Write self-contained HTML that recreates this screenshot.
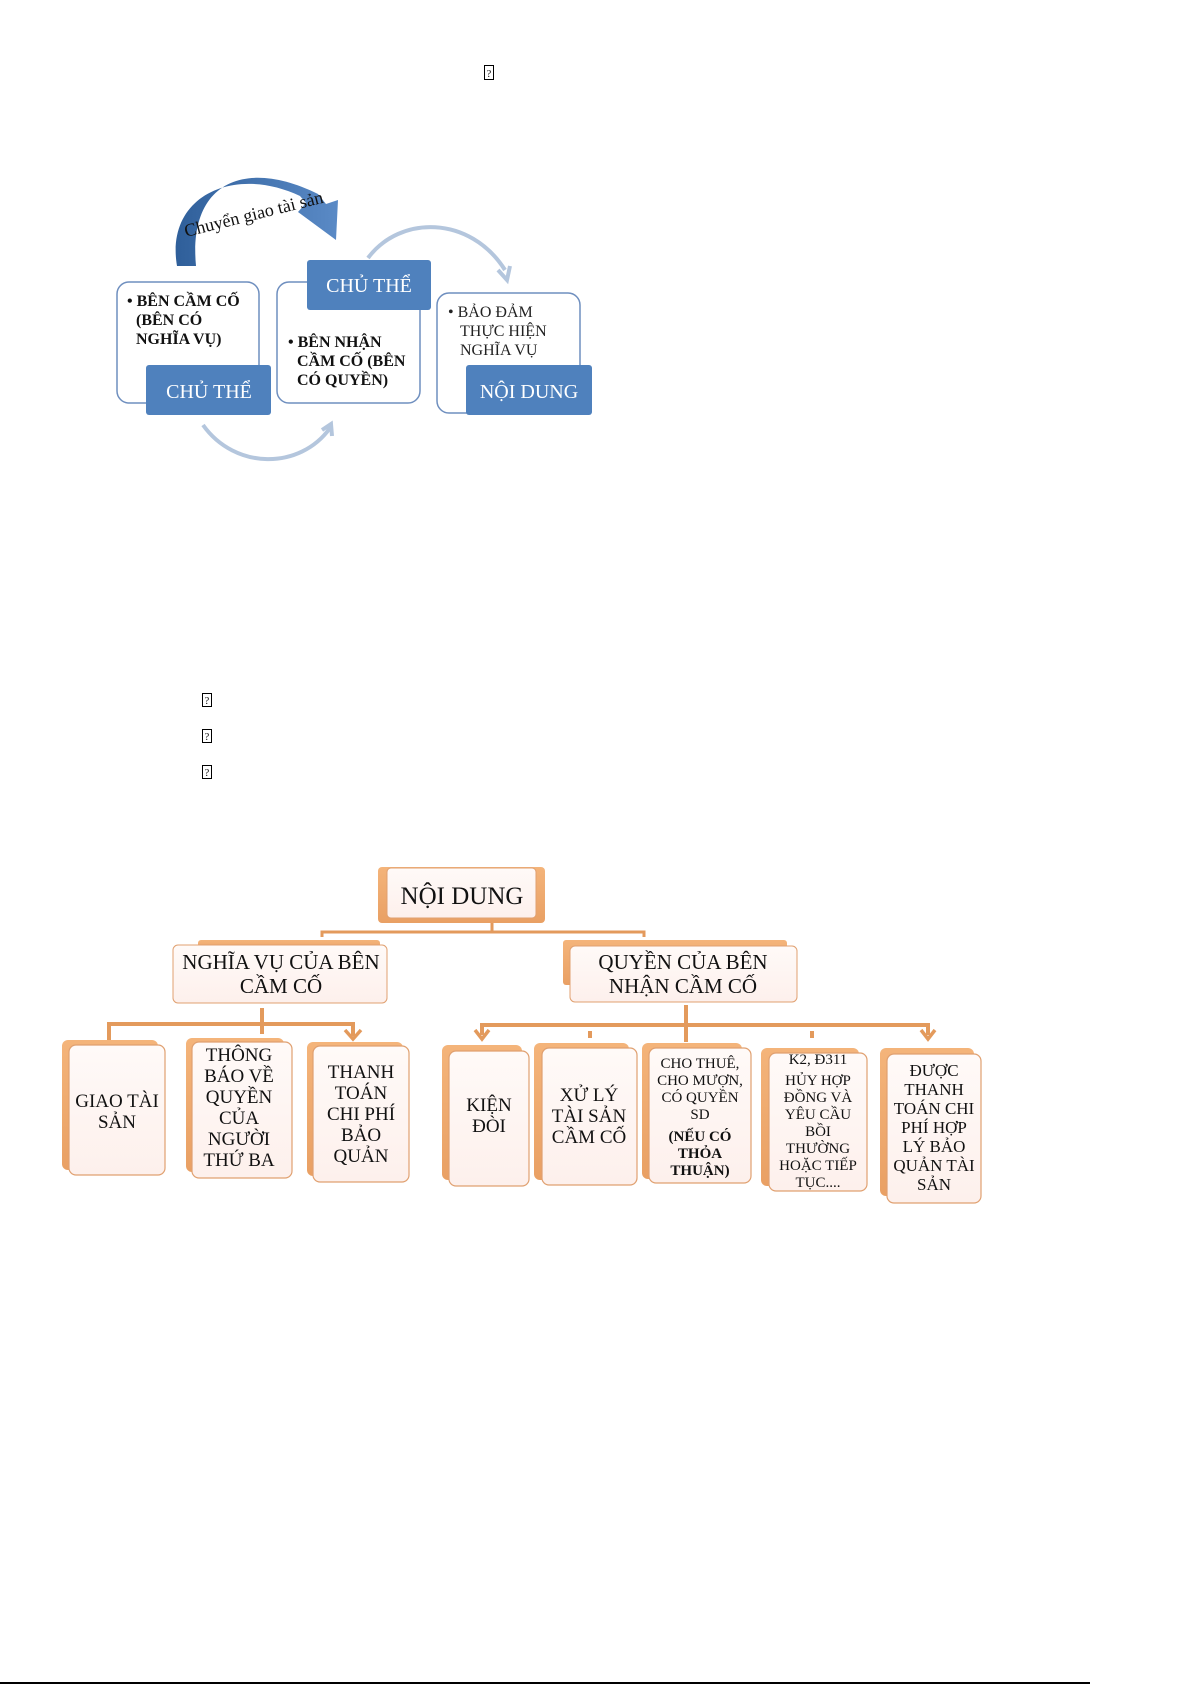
<!DOCTYPE html>
<html><head><meta charset="utf-8"><style>
html,body{margin:0;padding:0;background:#fff;}
svg{display:block;}
text{font-family:"Liberation Serif","DejaVu Serif",serif;}
</style></head><body>
<svg width="1192" height="1685" viewBox="0 0 1192 1685" xmlns="http://www.w3.org/2000/svg">
<defs>
<linearGradient id="bl" x1="0" y1="0" x2="1" y2="0"><stop offset="0" stop-color="#2f5f9a"/><stop offset="1" stop-color="#5a8ac6"/></linearGradient>
<linearGradient id="og" x1="0" y1="0" x2="0" y2="1"><stop offset="0" stop-color="#f4b47a"/><stop offset="1" stop-color="#e9a064"/></linearGradient>
<linearGradient id="fr" x1="0" y1="0" x2="0" y2="1"><stop offset="0" stop-color="#fffaf8"/><stop offset="1" stop-color="#fdf0ec"/></linearGradient>
</defs>
<g fill="none" stroke="#000" stroke-width="1">
<rect x="484.5" y="65.5" width="9" height="14"/>
<rect x="202.5" y="693.5" width="9" height="13"/>
<rect x="202.5" y="729.5" width="9" height="13"/>
<rect x="202.5" y="765.5" width="9" height="13"/>
</g>
<g font-family="Liberation Sans" font-size="10" text-anchor="middle"><text x="489" y="77">?</text><text x="207" y="704">?</text><text x="207" y="740">?</text><text x="207" y="776">?</text></g>

<!-- Top diagram -->
<path d="M177,266 C165,195 235,165 300,196 L306,203 L298,212 L336,240 L338,200 L326,204 L318,194 C245,158 188,182 196,266 Z" fill="url(#bl)"/>
<text x="0" y="0" font-size="18" fill="#111" transform="translate(186,237) rotate(-14)">Chuyển giao tài sản</text>
<path d="M368,258 C400,215 470,215 505,270" fill="none" stroke="#b4c6dd" stroke-width="4"/>
<path d="M498,270 L507,280 L510,266" fill="none" stroke="#b4c6dd" stroke-width="4"/>
<path d="M203,425 C235,470 300,470 330,428" fill="none" stroke="#b4c6dd" stroke-width="4"/>
<path d="M322,430 L331,424 L332,436" fill="none" stroke="#b4c6dd" stroke-width="4"/>
<g fill="#fff" stroke="#6f8fbf" stroke-width="1.5">
<rect x="117" y="282" width="142" height="121" rx="12"/>
<rect x="277" y="282" width="143" height="121" rx="12"/>
<rect x="437" y="293" width="143" height="120" rx="12"/>
</g>
<g fill="#4f81bd">
<rect x="146" y="365" width="125" height="50" rx="3"/>
<rect x="307" y="260" width="124" height="50" rx="3"/>
<rect x="466" y="365" width="126" height="50" rx="3"/>
</g>
<g fill="#fff" font-size="20" text-anchor="middle">
<text x="209" y="398">CHỦ THỂ</text>
<text x="369" y="292">CHỦ THỂ</text>
<text x="529" y="398">NỘI DUNG</text>
</g>
<g font-size="16" font-weight="bold" fill="#111">
<text x="127" y="306">• BÊN CẦM CỐ</text>
<text x="136" y="325">(BÊN CÓ</text>
<text x="136" y="344">NGHĨA VỤ)</text>
<text x="288" y="347">• BÊN NHẬN</text>
<text x="297" y="366">CẦM CỐ (BÊN</text>
<text x="297" y="385">CÓ QUYỀN)</text>
</g>
<g font-size="16" fill="#222">
<text x="448" y="317">• BẢO ĐẢM</text>
<text x="460" y="336">THỰC HIỆN</text>
<text x="460" y="355">NGHĨA VỤ</text>
</g>

<!-- Bottom diagram connectors -->
<g stroke="#e39a5c" fill="none">
<path d="M492,923 V932 M322,937 V932 H644 V937" stroke-width="3"/>
<path d="M262,1008 V1034 M109,1040 V1024 H353 V1036" stroke-width="4"/>
<path d="M345,1030 L353,1039 L361,1030" stroke-width="3.5"/>
<path d="M686,1005 V1042 M482,1035 V1025 H928 V1035 M590,1031 V1038 M812,1031 V1038" stroke-width="4"/>
<path d="M475,1030 L482,1039 L489,1030 M921,1030 L928,1039 L935,1030" stroke-width="3.5"/>
</g>

<rect x="378" y="867" width="167" height="56" rx="4" fill="url(#og)"/>
<rect x="387" y="868" width="149" height="50" rx="4" fill="url(#fr)" stroke="#e0a070"/>
<text x="462" y="904" font-size="25" text-anchor="middle" fill="#111">NỘI DUNG</text>

<rect x="198" y="940" width="182" height="12" rx="3" fill="url(#og)"/>
<rect x="173" y="945" width="214" height="58" rx="5" fill="url(#fr)" stroke="#e0a070"/>
<text text-anchor="middle" font-size="21" fill="#111"><tspan x="281" y="969">NGHĨA VỤ CỦA BÊN</tspan><tspan x="281" y="993">CẦM CỐ</tspan></text>
<rect x="563" y="940" width="224" height="45" rx="3" fill="url(#og)"/>
<rect x="570" y="946" width="227" height="56" rx="5" fill="url(#fr)" stroke="#e0a070"/>
<text text-anchor="middle" font-size="21" fill="#111"><tspan x="683" y="969">QUYỀN CỦA BÊN</tspan><tspan x="683" y="993">NHẬN CẦM CỐ</tspan></text>

<g fill="url(#og)">
<rect x="62" y="1040" width="96" height="130" rx="6"/>
<rect x="186" y="1038" width="98" height="134" rx="6"/>
<rect x="307" y="1042" width="96" height="134" rx="6"/>
<rect x="442" y="1045" width="80" height="135" rx="6"/>
<rect x="534" y="1043" width="95" height="137" rx="6"/>
<rect x="642" y="1043" width="100" height="136" rx="6"/>
<rect x="761" y="1048" width="98" height="138" rx="6"/>
<rect x="880" y="1048" width="94" height="148" rx="6"/>
</g>
<g fill="url(#fr)" stroke="#e0a070" stroke-width="1.2">
<rect x="69" y="1045" width="96" height="130" rx="7"/>
<rect x="192" y="1042" width="100" height="136" rx="7"/>
<rect x="313" y="1046" width="96" height="136" rx="7"/>
<rect x="449" y="1051" width="80" height="135" rx="7"/>
<rect x="542" y="1048" width="95" height="137" rx="7"/>
<rect x="649" y="1048" width="102" height="135" rx="7"/>
<rect x="769" y="1053" width="98" height="138" rx="7"/>
<rect x="887" y="1054" width="94" height="149" rx="7"/>
</g>
<g text-anchor="middle" font-size="19" fill="#111">
<text><tspan x="117" y="1107">GIAO TÀI</tspan><tspan x="117" y="1128">SẢN</tspan></text>
<text><tspan x="239" y="1061">THÔNG</tspan><tspan x="239" y="1082">BÁO VỀ</tspan><tspan x="239" y="1103">QUYỀN</tspan><tspan x="239" y="1124">CỦA</tspan><tspan x="239" y="1145">NGƯỜI</tspan><tspan x="239" y="1166">THỨ BA</tspan></text>
<text><tspan x="361" y="1078">THANH</tspan><tspan x="361" y="1099">TOÁN</tspan><tspan x="361" y="1120">CHI PHÍ</tspan><tspan x="361" y="1141">BẢO</tspan><tspan x="361" y="1162">QUẢN</tspan></text>
<text><tspan x="489" y="1111">KIỆN</tspan><tspan x="489" y="1132">ĐÒI</tspan></text>
<text><tspan x="589" y="1101">XỬ LÝ</tspan><tspan x="589" y="1122">TÀI SẢN</tspan><tspan x="589" y="1143">CẦM CỐ</tspan></text>
</g>
<g text-anchor="middle" font-size="15" fill="#111">
<text><tspan x="700" y="1068">CHO THUÊ,</tspan><tspan x="700" y="1085">CHO MƯỢN,</tspan><tspan x="700" y="1102">CÓ QUYỀN</tspan><tspan x="700" y="1119">SD</tspan></text>
<text font-weight="bold"><tspan x="700" y="1141">(NẾU CÓ</tspan><tspan x="700" y="1158">THỎA</tspan><tspan x="700" y="1175">THUẬN)</tspan></text>
<text><tspan x="818" y="1064">K2, Đ311</tspan><tspan x="818" y="1085">HỦY HỢP</tspan><tspan x="818" y="1102">ĐỒNG VÀ</tspan><tspan x="818" y="1119">YÊU CẦU</tspan><tspan x="818" y="1136">BỒI</tspan><tspan x="818" y="1153">THƯỜNG</tspan><tspan x="818" y="1170">HOẶC TIẾP</tspan><tspan x="818" y="1187">TỤC....</tspan></text>
</g>
<g text-anchor="middle" font-size="17" fill="#111">
<text><tspan x="934" y="1076">ĐƯỢC</tspan><tspan x="934" y="1095">THANH</tspan><tspan x="934" y="1114">TOÁN CHI</tspan><tspan x="934" y="1133">PHÍ HỢP</tspan><tspan x="934" y="1152">LÝ BẢO</tspan><tspan x="934" y="1171">QUẢN TÀI</tspan><tspan x="934" y="1190">SẢN</tspan></text>
</g>

<rect x="0" y="1682" width="1090" height="2" fill="#000"/>
</svg>
</body></html>
